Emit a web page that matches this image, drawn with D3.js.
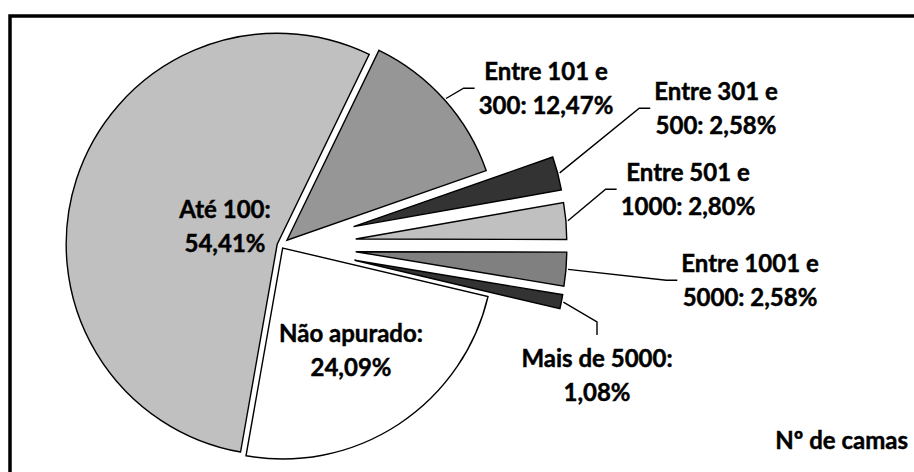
<!DOCTYPE html>
<html>
<head>
<meta charset="utf-8">
<script src="https://cdn.jsdelivr.net/npm/d3@7"></script>
<style>
  html, body { margin: 0; padding: 0; background: #fff; }
  svg { display: block; }
  text { font-family: "Lato", "Open Sans", sans-serif; font-weight: bold; fill: #000; stroke: #000; stroke-width: 0.45px; }
</style>
</head>
<body>
<svg id="chart" width="914" height="472"></svg>
<script>
// ---- data ----
const categories = ["Até 100", "Entre 101 e 300", "Entre 301 e 500", "Entre 501 e 1000", "Entre 1001 e 5000", "Mais de 5000", "Não apurado"];
const values = [54.41, 12.47, 2.58, 2.80, 2.58, 1.08, 24.09];
const legendTitle = "Nº de camas";

// ---- styles / layout ----
const colors = ["#c0c0c0", "#969696", "#333333", "#c0c0c0", "#808080", "#333333", "#ffffff"];
const explode = [4, 8, 75, 75, 75, 75, 3];
const center = [281, 245.5];
const radius = 211;
const startDeg = 190;
// label anchor: centre x, first baseline, leader type
const labelLayout = [
  { x: 225, y: 218, leader: null },
  { x: 546, y: 80, leader: "left" },
  { x: 716, y: 100, leader: "left" },
  { x: 688, y: 181, leader: "left" },
  { x: 750, y: 272, leader: "left" },
  { x: 597, y: 367, leader: "top" },
  { x: 351, y: 342, leader: null }
];
const fontSize = 24;
const lineGap = 33.5;
const capH = 17;

const svg = d3.select("#chart");

// frame
svg.append("rect")
  .attr("x", 10).attr("y", 16)
  .attr("width", 1000).attr("height", 1000)
  .attr("fill", "none").attr("stroke", "#000").attr("stroke-width", 3.5);

const pie = d3.pie().sort(null).value(d => d)
  .startAngle(startDeg * Math.PI / 180)
  .endAngle(startDeg * Math.PI / 180 + 2 * Math.PI);
const arcs = pie(values);
const arc = d3.arc().innerRadius(0).outerRadius(radius);

function dir(a) { return [Math.sin(a), -Math.cos(a)]; }

const g = svg.append("g");
arcs.forEach((a, i) => {
  const mid = (a.startAngle + a.endAngle) / 2;
  const d = dir(mid);
  a.cx = center[0] + explode[i] * d[0];
  a.cy = center[1] + explode[i] * d[1];
  a.mid = mid;
});

g.selectAll("path.slice").data(arcs).enter().append("path")
  .attr("class", "slice")
  .attr("transform", d => `translate(${d.cx},${d.cy})`)
  .attr("d", arc)
  .attr("fill", (d, i) => colors[i])
  .attr("stroke", "#000")
  .attr("stroke-width", 1.4)
  .attr("stroke-linejoin", "miter");

function fmt(v) { return v.toFixed(2).replace(".", ",") + "%"; }
function wrapLabel(cat, v) {
  const words = cat.split(" ");
  if (words.length >= 4) {
    return [words.slice(0, -1).join(" "), words[words.length - 1] + ": " + fmt(v)];
  }
  return [cat + ":", fmt(v)];
}

const labels = svg.append("g");
const leaders = svg.append("g");
arcs.forEach((a, i) => {
  const L = labelLayout[i];
  const lines = wrapLabel(categories[i], values[i]);
  const t = labels.append("text")
    .attr("text-anchor", "middle")
    .style("font-size", fontSize + "px");
  lines.forEach((ln, k) => {
    t.append("tspan").attr("x", L.x).attr("y", L.y + k * lineGap).text(ln);
  });
  if (L.leader) {
    const bb = t.node().getBBox();
    const d = dir(a.mid);
    const sx = a.cx + (radius + 2) * d[0];
    const sy = a.cy + (radius + 2) * d[1];
    let pts;
    if (L.leader === "left") {
      const my = ((L.y - capH) + (L.y + lineGap)) / 2;
      pts = [[sx, sy], [bb.x - 15, my], [bb.x - 4, my]];
    } else {
      const top = L.y - capH;
      pts = [[sx, sy], [L.x, top - 28], [L.x, top - 15]];
    }
    leaders.append("path")
      .attr("d", d3.line()(pts))
      .attr("fill", "none")
      .attr("stroke", "#000")
      .attr("stroke-width", 1.4);
  }
});

svg.append("text")
  .attr("x", 908).attr("y", 449)
  .attr("text-anchor", "end")
  .style("font-size", fontSize + "px")
  .text(legendTitle);
</script>
</body>
</html>
